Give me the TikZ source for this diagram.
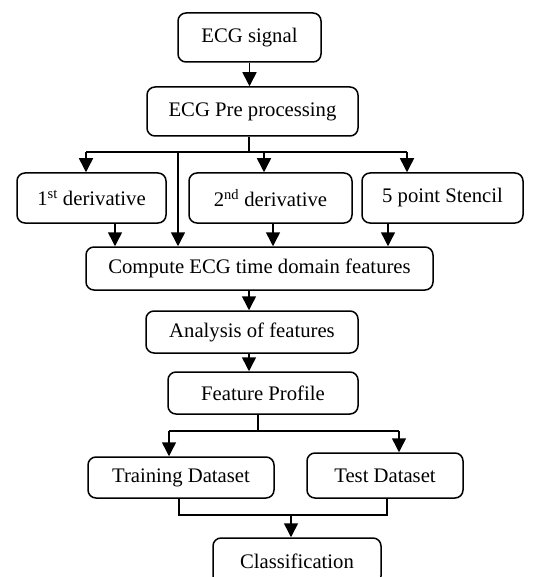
\documentclass[tikz,border=0pt]{standalone}
\usepackage{fontspec}
\setmainfont{Liberation Serif}
\usetikzlibrary{arrows.meta}
\begin{document}
\begin{tikzpicture}[x=1pt,y=-1pt,
  box/.style={draw,line width=1.5pt,rounded corners=8pt,inner sep=0pt,
    font=\fontsize{20.7}{24}\selectfont},
  link/.style={line width=1.5pt},
  arr/.style={line width=1.5pt,-{Triangle[width=14pt,length=14pt]}}]
\clip (0,0) rectangle (537,577);
\fill[white] (0,0) rectangle (537,577);

% process boxes
\node[box,minimum width=143pt,minimum height=49pt] (sig)  at (249.5,37.5) {ECG signal};
\node[box,minimum width=211pt,minimum height=49pt] (pre)  at (252.5,111.5) {ECG Pre processing};
\node[box,minimum width=149pt,minimum height=50pt] (d1)   at (91.5,198) {1\textsuperscript{st} derivative};
\node[box,minimum width=163pt,minimum height=50pt] (d2)   at (270.5,198) {2\textsuperscript{nd} derivative};
\node[box,minimum width=161pt,minimum height=50pt] (st)   at (442.5,198) {5 point Stencil};
\node[box,minimum width=347pt,minimum height=43pt] (comp) at (259.5,268.5) {Compute ECG time domain features};
\node[box,minimum width=212pt,minimum height=42pt] (ana)  at (252,332) {Analysis of features};
\node[box,minimum width=190pt,minimum height=42pt] (fp)   at (263,393) {Feature Profile};
\node[box,minimum width=186pt,minimum height=41pt] (tr)   at (181,477.5) {Training Dataset};
\node[box,minimum width=156pt,minimum height=45pt] (te)   at (385,475.5) {Test Dataset};
\node[box,minimum width=168pt,minimum height=46pt] (cl)   at (297,561) {Classification};

% signal to pre-processing
\draw[arr] (sig.south) -- (sig.south |- pre.north);

% branching bus below pre-processing
\coordinate (bm) at (249,152);
\coordinate (bl) at (86,152);
\coordinate (br) at (407,152);
\coordinate (bd2) at (264,152);
\coordinate (bdir) at (178,152);
\draw[link] (pre.south -| bm) -- (bm);
\draw[link] (bl) -- (br);
\draw[arr] (bl) -- (bl |- d1.north);
\draw[arr] (bd2) -- (bd2 |- d2.north);
\draw[arr] (br) -- (br |- st.north);
\draw[arr] (bdir) -- (bdir |- comp.north);

% derivatives into feature computation
\draw[arr] ([xshift=23.5pt]d1.south) -- ([xshift=23.5pt]d1.south |- comp.north);
\draw[arr] ([xshift=2.5pt]d2.south) -- ([xshift=2.5pt]d2.south |- comp.north);
\draw[arr] ([xshift=-54.5pt]st.south) -- ([xshift=-54.5pt]st.south |- comp.north);

% main chain
\draw[arr] ([xshift=-10.5pt]comp.south) -- ([xshift=-10.5pt]comp.south |- ana.north);
\draw[arr] ([xshift=-3pt]ana.south) -- ([xshift=-3pt]ana.south |- fp.north);

% split into training and test sets
\coordinate (fm) at (258,431);
\coordinate (fl) at (169,431);
\coordinate (fr) at (399,431);
\draw[link] (fp.south -| fm) -- (fm);
\draw[link] (fl) -- (fr);
\draw[arr] (fl) -- (fl |- tr.north);
\draw[arr] (fr) -- (fr |- te.north);

% merge into classification
\coordinate (ml) at (179,515);
\coordinate (mr) at (387,515);
\coordinate (mm) at (291,515);
\draw[link] (tr.south -| ml) -- (ml) -- (mr) -- (te.south -| mr);
\draw[arr] (mm) -- (mm |- cl.north);
\end{tikzpicture}
\end{document}
